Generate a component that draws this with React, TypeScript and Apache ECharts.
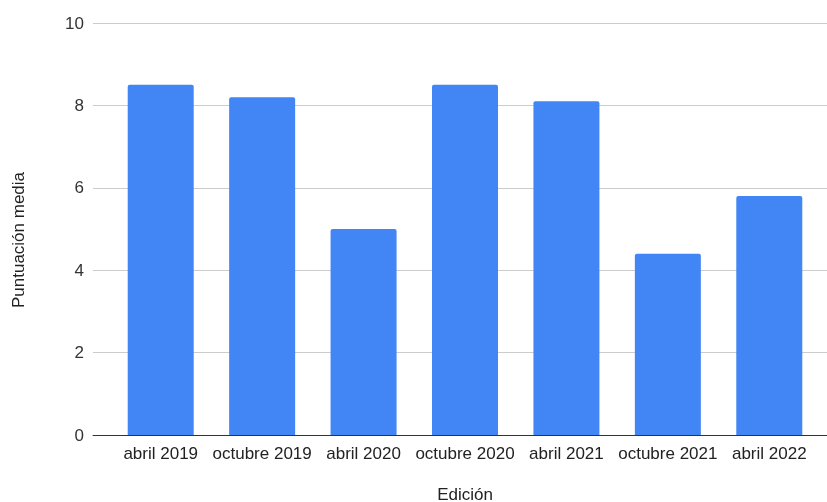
import React, { useEffect, useRef } from "react";
import * as echarts from "echarts";

const categories = ["abril 2019", "octubre 2019", "abril 2020", "octubre 2020", "abril 2021", "octubre 2021", "abril 2022"];
const values = [8.5, 8.2, 5.0, 8.5, 8.1, 4.4, 5.8];
const yTitle = "Puntuación media";
const xTitle = "Edición";

export default function App() {
  const ref = useRef<HTMLDivElement>(null);
  useEffect(() => {
    document.body.style.margin = "0";
    const chart = echarts.init(ref.current!, undefined, { renderer: "svg" });
    const font = "Arial, 'Liberation Sans', sans-serif";
    chart.setOption({
      animation: false,
      textStyle: { fontFamily: font },
      grid: [
        { left: 93, right: 0, top: 23, height: 412 },
        { left: 110, right: 7, top: 23, height: 412 },
      ],
      xAxis: [
        {
          type: "value", gridIndex: 0, min: 0, max: 1,
          axisLabel: { show: false }, splitLine: { show: false }, axisTick: { show: false },
          axisLine: { show: true, lineStyle: { color: "#333", width: 1 } },
        },
        {
          type: "category", gridIndex: 1, data: categories,
          axisLine: { show: false }, axisTick: { show: false },
          axisLabel: { fontSize: 17, color: "#222", margin: 10, fontFamily: font, interval: 0 },
        },
      ],
      yAxis: [
        {
          type: "value", gridIndex: 0, min: 0, max: 10, interval: 2,
          axisLine: { show: false }, axisTick: { show: false },
          axisLabel: { fontSize: 17, color: "#333", margin: 9, fontFamily: font },
          splitLine: { lineStyle: { color: "#cccccc", width: 1 } },
        },
        {
          type: "value", gridIndex: 1, min: 0, max: 10, interval: 2, show: false,
          splitLine: { show: false },
        },
      ],
      series: [
        {
          type: "bar", xAxisIndex: 1, yAxisIndex: 1, data: values, barWidth: 66,
          itemStyle: { color: "#4285F4", borderRadius: [2, 2, 0, 0] },
        },
      ],
      graphic: [
        {
          type: "text", x: 18, y: 240, rotation: Math.PI / 2,
          style: { text: yTitle, fontSize: 17, fill: "#222", fontFamily: font, textAlign: "center", textVerticalAlign: "middle" },
        },
        {
          type: "text", x: 465, y: 494,
          style: { text: xTitle, fontSize: 17, fill: "#222", fontFamily: font, textAlign: "center", textVerticalAlign: "middle" },
        },
      ],
    });
    return () => chart.dispose();
  }, []);
  return <div ref={ref} style={{ position: "fixed", left: 0, top: 0, width: 827, height: 502 }} />;
}
